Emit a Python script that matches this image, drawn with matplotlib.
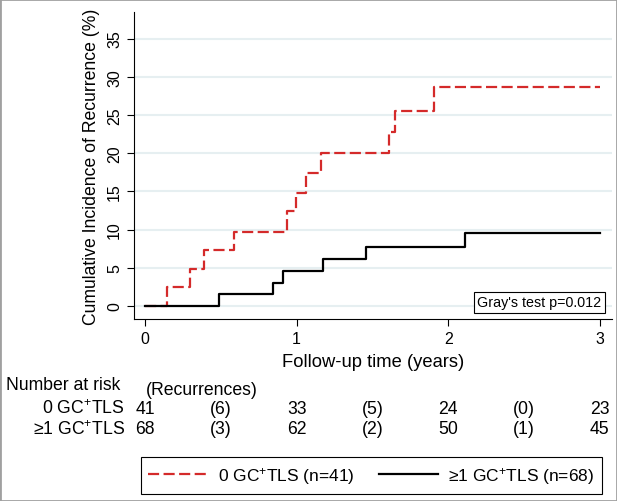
import matplotlib
matplotlib.use('Agg')
import matplotlib.pyplot as plt
from matplotlib.transforms import blended_transform_factory
from matplotlib.patches import Rectangle

plt.rcParams['font.family'] = ['Liberation Sans', 'DejaVu Sans']
plt.rcParams['mathtext.fontset'] = 'custom'
plt.rcParams['mathtext.rm'] = 'Liberation Sans'
plt.rcParams['mathtext.it'] = 'Liberation Sans'

# step curves (time in years, cumulative incidence %)
t_zero = [0, 0.144, 0.295, 0.39, 0.586, 0.938, 0.999, 1.063, 1.162, 1.606, 1.649, 1.909, 3.0]
ci_zero = [0, 2.44, 4.88, 7.36, 9.75, 12.4, 14.85, 17.46, 20.0, 22.8, 25.5, 28.6, 28.6]
t_one = [0, 0.491, 0.841, 0.91, 1.172, 1.455, 2.112, 3.0]
ci_one = [0, 1.52, 3.05, 4.53, 6.18, 7.75, 9.58, 9.58]

# number at risk table
risk_times = [0, 1, 2, 3]
risk_zero = ['41', '33', '24', '23']
risk_one = ['68', '62', '50', '45']
rec_times = [0.5, 1.5, 2.5]
rec_zero = ['(6)', '(5)', '(0)']
rec_one = ['(3)', '(2)', '(1)']

red = '#d42a2a'
tab_fs = 12.7

fig = plt.figure(figsize=(6.17, 5.02), dpi=100)
ax = fig.add_axes([0.217, 0.3625, 0.775, 0.612])

ax.step(t_zero, ci_zero, where='post', color=red, lw=1.6, linestyle=(0, (5, 2)),
        label='0 GC$^{+}$TLS (n=41)')
ax.step(t_one, ci_one, where='post', color='black', lw=1.6,
        label='\u22651 GC$^{+}$TLS (n=68)')

ax.set_xlim(-0.073, 3.08)
ax.set_ylim(-1.7, 38.5)
ax.set_xticks([0, 1, 2, 3])
ax.set_yticks(range(0, 40, 5))
ax.yaxis.grid(True, color='#e6eff1', lw=1.5)
ax.set_axisbelow(True)
ax.spines['top'].set_visible(False)
ax.spines['right'].set_visible(False)
ax.tick_params(axis='both', labelsize=11.5, length=5, width=0.8)
for lab in ax.get_yticklabels():
    lab.set_rotation(90)
    lab.set_va('center')
ax.set_xlabel('Follow-up time (years)', fontsize=13.2, labelpad=5)
ax.set_ylabel('Cumulative Incidence of Recurrence (%)', fontsize=12.7, labelpad=5)

ax.text(0.978, 0.055, "Gray's test p=0.012", transform=ax.transAxes, ha='right', va='center',
        fontsize=10.3, bbox=dict(boxstyle='square,pad=0.25', fc='white', ec='black', lw=0.8))

# number at risk
tr = blended_transform_factory(ax.transData, fig.transFigure)
fig.text(0.01, 1 - 386 / 502, 'Number at risk', fontsize=tab_fs, va='center', ha='left')
fig.text(146 / 617, 1 - 391 / 502, '(Recurrences)', fontsize=tab_fs, va='center', ha='left')
y1 = 1 - 409 / 502
y2 = 1 - 430 / 502
fig.text(125 / 617, y1, '0 GC$^{+}$TLS', fontsize=tab_fs, va='center', ha='right')
fig.text(125 / 617, y2, '\u22651 GC$^{+}$TLS', fontsize=tab_fs, va='center', ha='right')
for t, a, b in zip(risk_times, risk_zero, risk_one):
    ax.text(t, y1, a, transform=tr, fontsize=tab_fs, va='center', ha='center')
    ax.text(t, y2, b, transform=tr, fontsize=tab_fs, va='center', ha='center')
for t, a, b in zip(rec_times, rec_zero, rec_one):
    ax.text(t, y1, a, transform=tr, fontsize=tab_fs, va='center', ha='center')
    ax.text(t, y2, b, transform=tr, fontsize=tab_fs, va='center', ha='center')

leg = fig.legend(loc='center', bbox_to_anchor=(0.602, 0.0508), ncol=2, fontsize=12.5,
                 handlelength=3.4, handletextpad=0.6, columnspacing=1.4, fancybox=False,
                 edgecolor='black', framealpha=1, borderpad=0.45)
leg.get_frame().set_linewidth(0.8)

fig.patches.append(Rectangle((0, 0), 1, 1, transform=fig.transFigure, fill=False,
                             ec='#a0a0a0', lw=2))

fig.savefig('out.png', dpi=100)
